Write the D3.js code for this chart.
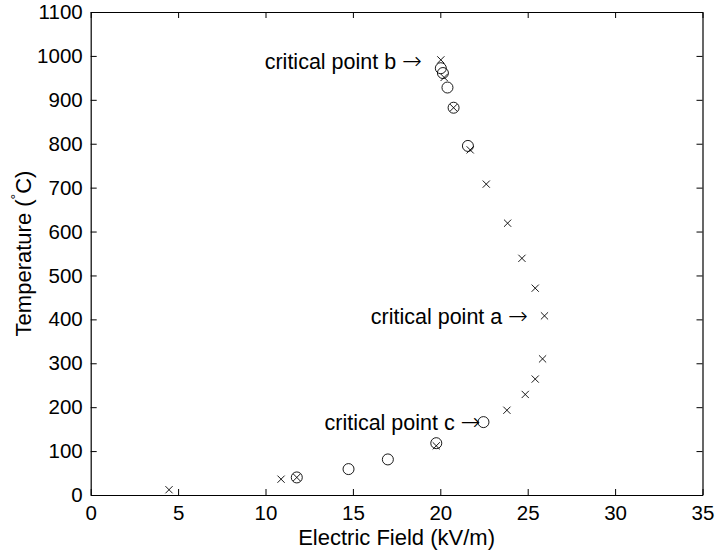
<!DOCTYPE html>
<html>
<head>
<meta charset="utf-8">
<script src="https://cdn.jsdelivr.net/npm/d3@7"></script>
<style>
  html, body { margin: 0; padding: 0; background: #fff; }
  svg { display: block; }
  text { font-family: "Liberation Sans", Arial, Helvetica, sans-serif; fill: #000; }
</style>
</head>
<body>
<svg id="chart" width="717" height="550"></svg>
<script>
// ---- data ----
const crossX = [4.48, 10.89, 11.79, 19.77, 23.81, 24.86, 25.43, 25.85, 25.96, 25.43, 24.67, 23.85, 22.63, 21.71, 20.76, 20.22, 20.03];
const crossY = [12, 36, 40, 112, 193, 229, 264, 310, 408, 471, 539, 619, 708, 786, 882, 951, 991];
const circleX = [11.79, 14.75, 17.0, 19.77, 22.47, 21.58, 20.76, 20.41, 20.15, 20.03];
const circleY = [40, 59, 81, 118, 166, 795, 882, 928, 961, 972];
const xTicks = [0, 5, 10, 15, 20, 25, 30, 35];
const yTicks = [0, 100, 200, 300, 400, 500, 600, 700, 800, 900, 1000, 1100];
const annLabels = ["critical point b", "critical point a", "critical point c"];
const annX = [18.95, 25.02, 22.3];
const annY = [988, 406, 166];
const xTitle = "Electric Field (kV/m)";

// ---- layout ----
const svg = d3.select("#chart");
const L = 90.7, R = 702.5, T = 12, B = 495;
const x = d3.scaleLinear().domain([0, 35]).range([L, R]);
const y = d3.scaleLinear().domain([0, 1100]).range([B, T]);
const tick = 6;
const fs = 20.5;
const fsTitle = 22;
const fsAnn = 21.5;

// axes
const gx = svg.append("g").attr("transform", `translate(0,${B})`)
  .call(d3.axisBottom(x).tickValues(xTicks).tickSizeInner(-tick).tickSizeOuter(0).tickPadding(10).tickFormat(d3.format("d")));
const gxt = svg.append("g").attr("transform", `translate(0,${T})`)
  .call(d3.axisTop(x).tickValues(xTicks).tickSizeInner(-tick).tickSizeOuter(0).tickFormat(""));
const gy = svg.append("g").attr("transform", `translate(${L},0)`)
  .call(d3.axisLeft(y).tickValues(yTicks).tickSizeInner(-tick).tickSizeOuter(0).tickPadding(8).tickFormat(d3.format("d")));
const gyr = svg.append("g").attr("transform", `translate(${R},0)`)
  .call(d3.axisRight(y).tickValues(yTicks).tickSizeInner(-tick).tickSizeOuter(0).tickFormat(""));
[gx, gxt, gy, gyr].forEach(g => {
  g.select(".domain").attr("stroke", "#000").attr("stroke-width", 1.2);
  g.selectAll(".tick line").attr("stroke", "#000").attr("stroke-width", 1);
  g.selectAll(".tick text").attr("font-size", fs).attr("font-family", "Liberation Sans, Arial, sans-serif").attr("fill", "#000");
});

// titles
svg.append("text").attr("x", (L + R) / 2).attr("y", 545).attr("text-anchor", "middle")
  .attr("font-size", fsTitle).text(xTitle);
const yl = svg.append("text").attr("transform", `translate(31,${(T + B) / 2}) rotate(-90)`)
  .attr("text-anchor", "middle").attr("font-size", fsTitle);
yl.append("tspan").text("Temperature (");
yl.append("tspan").attr("font-size", 14).attr("dy", -10).text("°");
yl.append("tspan").attr("dy", 10).text("C)");

// markers
const pts = d3.range(crossX.length).map(i => ({ x: crossX[i], y: crossY[i] }));
const cs = 3.6;
svg.append("g").selectAll("path").data(pts).join("path")
  .attr("d", d => {
    const px = x(d.x), py = y(d.y);
    return `M${px - cs},${py - cs}L${px + cs},${py + cs}M${px - cs},${py + cs}L${px + cs},${py - cs}`;
  })
  .attr("stroke", "#000").attr("stroke-width", 0.9).attr("fill", "none");

const cpts = d3.range(circleX.length).map(i => ({ x: circleX[i], y: circleY[i] }));
svg.append("g").selectAll("circle").data(cpts).join("circle")
  .attr("cx", d => x(d.x)).attr("cy", d => y(d.y)).attr("r", 5.5)
  .attr("stroke", "#000").attr("stroke-width", 0.9).attr("fill", "none");

// annotations
const ann = svg.append("g").selectAll("text").data(annLabels).join("text")
  .attr("x", (d, i) => x(annX[i])).attr("y", (d, i) => y(annY[i]))
  .attr("dy", "0.35em").attr("text-anchor", "end").attr("font-size", fsAnn);
ann.append("tspan").text(d => d + " ");
ann.append("tspan").attr("font-family", "DejaVu Sans").attr("font-weight", 200).attr("font-size", fsAnn * 1.1).text("→");
</script>
</body>
</html>
